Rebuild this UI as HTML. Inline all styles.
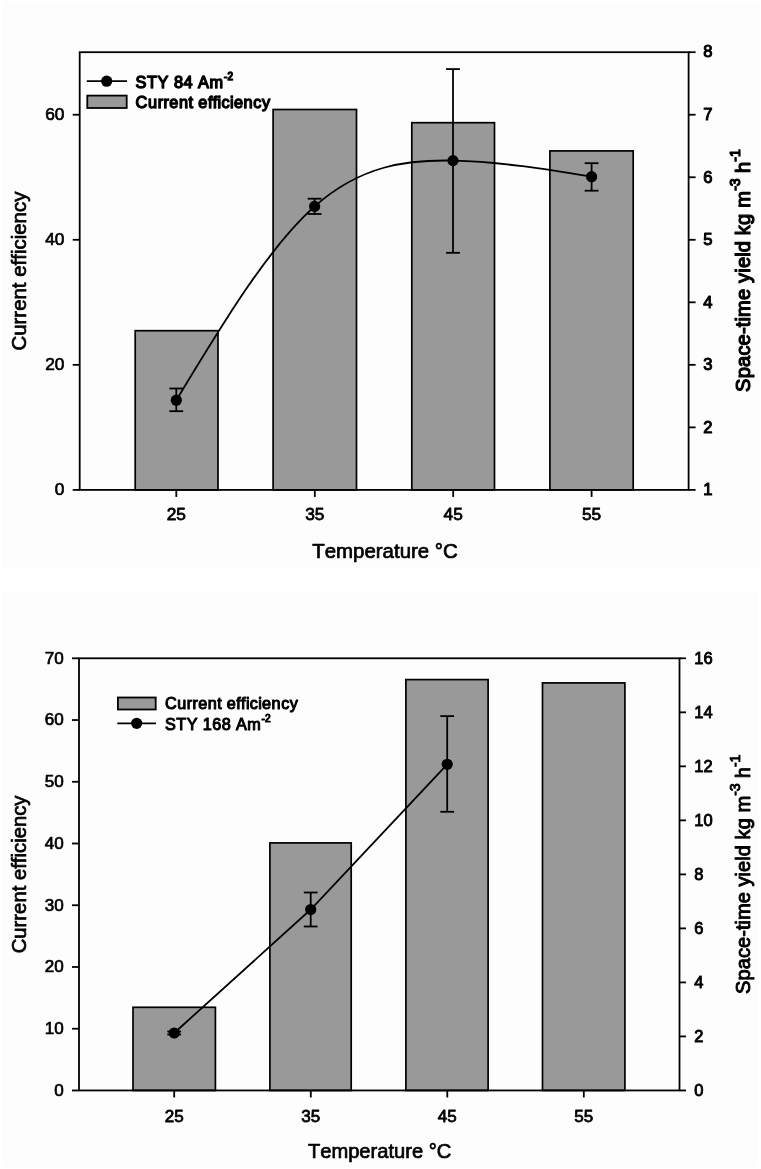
<!DOCTYPE html>
<html lang="en"><head><meta charset="utf-8"><title>Current efficiency and space-time yield vs temperature</title>
<style>
html,body{margin:0;padding:0;background:#fff;}
svg{display:block;font-family:'Liberation Sans', Arial, Helvetica, sans-serif;fill:#000;font-kerning:none;}
text{stroke-linejoin:round;}
</style></head><body>
<svg width="761" height="1169" viewBox="0 0 761 1169">
<defs><filter id="soft" x="0" y="0" width="761" height="1169" filterUnits="userSpaceOnUse" color-interpolation-filters="sRGB"><feGaussianBlur stdDeviation="0.5"/></filter></defs>
<rect width="761" height="1169" fill="#fff"/>
<g filter="url(#soft)">
<rect width="761" height="1169" fill="#fff"/>
<g id="chart-84">
<rect x="2" y="2" width="756.8" height="566" fill="#fdfdfd"/>
<rect x="135.2" y="330.7" width="82.8" height="159.2" fill="#999" stroke="#000" stroke-width="1.7"/>
<rect x="273.1" y="109.5" width="83.4" height="380.4" fill="#999" stroke="#000" stroke-width="1.7"/>
<rect x="411.8" y="122.7" width="82.7" height="367.2" fill="#999" stroke="#000" stroke-width="1.7"/>
<rect x="549.9" y="150.9" width="83.3" height="339" fill="#999" stroke="#000" stroke-width="1.7"/>
<rect x="79.7" y="52.2" width="608.9" height="437.7" fill="none" stroke="#000" stroke-width="1.8"/>
<line x1="72.7" y1="489.9" x2="79.7" y2="489.9" stroke="#000" stroke-width="1.8"/>
<text x="64.4" y="495.29" font-size="17.3" text-anchor="end" stroke="#000" stroke-width="0.7">0</text>
<line x1="72.7" y1="364.84" x2="79.7" y2="364.84" stroke="#000" stroke-width="1.8"/>
<text x="64.4" y="370.24" font-size="17.3" text-anchor="end" stroke="#000" stroke-width="0.7">20</text>
<line x1="72.7" y1="239.79" x2="79.7" y2="239.79" stroke="#000" stroke-width="1.8"/>
<text x="64.4" y="245.18" font-size="17.3" text-anchor="end" stroke="#000" stroke-width="0.7">40</text>
<line x1="72.7" y1="114.73" x2="79.7" y2="114.73" stroke="#000" stroke-width="1.8"/>
<text x="64.4" y="120.12" font-size="17.3" text-anchor="end" stroke="#000" stroke-width="0.7">60</text>
<line x1="688.6" y1="489.9" x2="695.6" y2="489.9" stroke="#000" stroke-width="1.8"/>
<text x="703.2" y="495.19" font-size="16.6" stroke="#000" stroke-width="1.05">1</text>
<line x1="688.6" y1="427.37" x2="695.6" y2="427.37" stroke="#000" stroke-width="1.8"/>
<text x="703.2" y="432.66" font-size="16.6" stroke="#000" stroke-width="1.05">2</text>
<line x1="688.6" y1="364.84" x2="695.6" y2="364.84" stroke="#000" stroke-width="1.8"/>
<text x="703.2" y="370.14" font-size="16.6" stroke="#000" stroke-width="1.05">3</text>
<line x1="688.6" y1="302.31" x2="695.6" y2="302.31" stroke="#000" stroke-width="1.8"/>
<text x="703.2" y="307.61" font-size="16.6" stroke="#000" stroke-width="1.05">4</text>
<line x1="688.6" y1="239.79" x2="695.6" y2="239.79" stroke="#000" stroke-width="1.8"/>
<text x="703.2" y="245.08" font-size="16.6" stroke="#000" stroke-width="1.05">5</text>
<line x1="688.6" y1="177.26" x2="695.6" y2="177.26" stroke="#000" stroke-width="1.8"/>
<text x="703.2" y="182.55" font-size="16.6" stroke="#000" stroke-width="1.05">6</text>
<line x1="688.6" y1="114.73" x2="695.6" y2="114.73" stroke="#000" stroke-width="1.8"/>
<text x="703.2" y="120.02" font-size="16.6" stroke="#000" stroke-width="1.05">7</text>
<line x1="688.6" y1="52.2" x2="695.6" y2="52.2" stroke="#000" stroke-width="1.8"/>
<text x="703.2" y="57.49" font-size="16.6" stroke="#000" stroke-width="1.05">8</text>
<line x1="176.3" y1="489.9" x2="176.3" y2="496.9" stroke="#000" stroke-width="1.8"/>
<text x="176.3" y="520.3" font-size="17.3" text-anchor="middle" stroke="#000" stroke-width="0.8">25</text>
<line x1="314.8" y1="489.9" x2="314.8" y2="496.9" stroke="#000" stroke-width="1.8"/>
<text x="314.8" y="520.3" font-size="17.3" text-anchor="middle" stroke="#000" stroke-width="0.8">35</text>
<line x1="453.2" y1="489.9" x2="453.2" y2="496.9" stroke="#000" stroke-width="1.8"/>
<text x="453.2" y="520.3" font-size="17.3" text-anchor="middle" stroke="#000" stroke-width="0.8">45</text>
<line x1="591.6" y1="489.9" x2="591.6" y2="496.9" stroke="#000" stroke-width="1.8"/>
<text x="591.6" y="520.3" font-size="17.3" text-anchor="middle" stroke="#000" stroke-width="0.8">55</text>
<path d="M176.3,400.2 C222.4,323.82 268.5,247.44 314.6,206.4 C360.73,165.33 406.87,159.66 453,160.6 C499.2,161.54 545.4,169.12 591.6,176.7" fill="none" stroke="#000" stroke-width="1.8"/>
<line x1="176.3" y1="388.5" x2="176.3" y2="411.2" stroke="#000" stroke-width="1.8"/>
<line x1="169.4" y1="388.5" x2="183.2" y2="388.5" stroke="#000" stroke-width="1.8"/>
<line x1="169.4" y1="411.2" x2="183.2" y2="411.2" stroke="#000" stroke-width="1.8"/>
<circle cx="176.3" cy="400.2" r="5.6" fill="#000"/>
<line x1="314.6" y1="198.7" x2="314.6" y2="214" stroke="#000" stroke-width="1.8"/>
<line x1="307.7" y1="198.7" x2="321.5" y2="198.7" stroke="#000" stroke-width="1.8"/>
<line x1="307.7" y1="214" x2="321.5" y2="214" stroke="#000" stroke-width="1.8"/>
<circle cx="314.6" cy="206.4" r="5.6" fill="#000"/>
<line x1="453" y1="69.1" x2="453" y2="252.8" stroke="#000" stroke-width="1.8"/>
<line x1="446.1" y1="69.1" x2="459.9" y2="69.1" stroke="#000" stroke-width="1.8"/>
<line x1="446.1" y1="252.8" x2="459.9" y2="252.8" stroke="#000" stroke-width="1.8"/>
<circle cx="453" cy="160.6" r="5.6" fill="#000"/>
<line x1="591.6" y1="163.2" x2="591.6" y2="190.7" stroke="#000" stroke-width="1.8"/>
<line x1="584.7" y1="163.2" x2="598.5" y2="163.2" stroke="#000" stroke-width="1.8"/>
<line x1="584.7" y1="190.7" x2="598.5" y2="190.7" stroke="#000" stroke-width="1.8"/>
<circle cx="591.6" cy="176.7" r="5.6" fill="#000"/>
<line x1="86.8" y1="81.2" x2="127" y2="81.2" stroke="#000" stroke-width="1.8"/>
<circle cx="106.7" cy="81.2" r="5.6" fill="#000"/>
<rect x="87.3" y="95.6" width="39.4" height="12.4" fill="#999" stroke="#000" stroke-width="1.8"/>
<text x="135.5 147.04 157.61 169.15 173.95 183.57 193.19 198 209.54" y="87.7" font-size="16.3" stroke="#000" stroke-width="1.35">STY 84 Am<tspan x="223.95 227.41" dy="-7.6" font-size="10">-2</tspan></text>
<text x="135.5 148.04 157.7 163.49 169.27 178.93 188.59 193.42 198.24 207.9 212.73 217.55 221.41 230.1 233.96 243.62 253.28 261.96" y="107.5" font-size="16.3" stroke="#000" stroke-width="1.35">Current efficiency</text>
<text x="26.3" y="350.6" font-size="20.45" transform="rotate(-90 26.3 350.6)" stroke="#000" stroke-width="0.7">Current efficiency</text>
<text x="312.2" y="558.3" font-size="20.45" stroke="#000" stroke-width="0.7">Temperature °C</text>
<text x="750.2 763.84 775.21 786.59 796.81 808.18 814.99 820.68 825.22 842.25 853.63 859.31 869.53 874.08 885.45 889.99 901.37 907.05 917.27 928.65 934.33" y="392" font-size="20.1" transform="rotate(-90 750.2 392)" stroke="#000" stroke-width="1.2">Space-time yield kg m<tspan x="951.36 955.91" dy="-10.22" font-size="14.2">-3</tspan><tspan x="963.49 969.17" dy="10.22"> h</tspan><tspan x="980.55 985.09" dy="-10.22" font-size="14.2">-1</tspan></text>
</g>
<g id="chart-168">
<rect x="2" y="592" width="755.8" height="575" fill="#fdfdfd"/>
<rect x="133" y="1007.3" width="82.4" height="83.15" fill="#999" stroke="#000" stroke-width="1.7"/>
<rect x="269.9" y="842.9" width="81.3" height="247.55" fill="#999" stroke="#000" stroke-width="1.7"/>
<rect x="405.9" y="679.6" width="82.2" height="410.85" fill="#999" stroke="#000" stroke-width="1.7"/>
<rect x="542.5" y="682.9" width="82.4" height="407.55" fill="#999" stroke="#000" stroke-width="1.7"/>
<rect x="79.0" y="658.3" width="600.5" height="432.15" fill="none" stroke="#000" stroke-width="1.8"/>
<line x1="72" y1="1090.45" x2="79" y2="1090.45" stroke="#000" stroke-width="1.8"/>
<text x="63.8" y="1095.75" font-size="17.04" text-anchor="end" stroke="#000" stroke-width="0.7">0</text>
<line x1="72" y1="1028.71" x2="79" y2="1028.71" stroke="#000" stroke-width="1.8"/>
<text x="63.8" y="1034.01" font-size="17.04" text-anchor="end" stroke="#000" stroke-width="0.7">10</text>
<line x1="72" y1="966.98" x2="79" y2="966.98" stroke="#000" stroke-width="1.8"/>
<text x="63.8" y="972.28" font-size="17.04" text-anchor="end" stroke="#000" stroke-width="0.7">20</text>
<line x1="72" y1="905.24" x2="79" y2="905.24" stroke="#000" stroke-width="1.8"/>
<text x="63.8" y="910.54" font-size="17.04" text-anchor="end" stroke="#000" stroke-width="0.7">30</text>
<line x1="72" y1="843.51" x2="79" y2="843.51" stroke="#000" stroke-width="1.8"/>
<text x="63.8" y="848.81" font-size="17.04" text-anchor="end" stroke="#000" stroke-width="0.7">40</text>
<line x1="72" y1="781.77" x2="79" y2="781.77" stroke="#000" stroke-width="1.8"/>
<text x="63.8" y="787.07" font-size="17.04" text-anchor="end" stroke="#000" stroke-width="0.7">50</text>
<line x1="72" y1="720.04" x2="79" y2="720.04" stroke="#000" stroke-width="1.8"/>
<text x="63.8" y="725.34" font-size="17.04" text-anchor="end" stroke="#000" stroke-width="0.7">60</text>
<line x1="72" y1="658.3" x2="79" y2="658.3" stroke="#000" stroke-width="1.8"/>
<text x="63.8" y="663.6" font-size="17.04" text-anchor="end" stroke="#000" stroke-width="0.7">70</text>
<line x1="679.5" y1="1090.45" x2="686" y2="1090.45" stroke="#000" stroke-width="1.8"/>
<text x="694.3" y="1096.15" font-size="16.5" stroke="#000" stroke-width="0.9">0</text>
<line x1="679.5" y1="1036.43" x2="686" y2="1036.43" stroke="#000" stroke-width="1.8"/>
<text x="694.3" y="1042.13" font-size="16.5" stroke="#000" stroke-width="0.9">2</text>
<line x1="679.5" y1="982.41" x2="686" y2="982.41" stroke="#000" stroke-width="1.8"/>
<text x="694.3" y="988.11" font-size="16.5" stroke="#000" stroke-width="0.9">4</text>
<line x1="679.5" y1="928.39" x2="686" y2="928.39" stroke="#000" stroke-width="1.8"/>
<text x="694.3" y="934.09" font-size="16.5" stroke="#000" stroke-width="0.9">6</text>
<line x1="679.5" y1="874.38" x2="686" y2="874.38" stroke="#000" stroke-width="1.8"/>
<text x="694.3" y="880.08" font-size="16.5" stroke="#000" stroke-width="0.9">8</text>
<line x1="679.5" y1="820.36" x2="686" y2="820.36" stroke="#000" stroke-width="1.8"/>
<text x="694.3" y="826.06" font-size="16.5" stroke="#000" stroke-width="0.9">10</text>
<line x1="679.5" y1="766.34" x2="686" y2="766.34" stroke="#000" stroke-width="1.8"/>
<text x="694.3" y="772.04" font-size="16.5" stroke="#000" stroke-width="0.9">12</text>
<line x1="679.5" y1="712.32" x2="686" y2="712.32" stroke="#000" stroke-width="1.8"/>
<text x="694.3" y="718.02" font-size="16.5" stroke="#000" stroke-width="0.9">14</text>
<line x1="679.5" y1="658.3" x2="686" y2="658.3" stroke="#000" stroke-width="1.8"/>
<text x="694.3" y="664" font-size="16.5" stroke="#000" stroke-width="0.9">16</text>
<line x1="174.2" y1="1090.45" x2="174.2" y2="1097.45" stroke="#000" stroke-width="1.8"/>
<text x="174.2" y="1121.6" font-size="17.04" text-anchor="middle" stroke="#000" stroke-width="0.8">25</text>
<line x1="310.8" y1="1090.45" x2="310.8" y2="1097.45" stroke="#000" stroke-width="1.8"/>
<text x="310.8" y="1121.6" font-size="17.04" text-anchor="middle" stroke="#000" stroke-width="0.8">35</text>
<line x1="447.3" y1="1090.45" x2="447.3" y2="1097.45" stroke="#000" stroke-width="1.8"/>
<text x="447.3" y="1121.6" font-size="17.04" text-anchor="middle" stroke="#000" stroke-width="0.8">45</text>
<line x1="583.8" y1="1090.45" x2="583.8" y2="1097.45" stroke="#000" stroke-width="1.8"/>
<text x="583.8" y="1121.6" font-size="17.04" text-anchor="middle" stroke="#000" stroke-width="0.8">55</text>
<polyline points="174.2,1033 310.7,909.5 447.2,764.3" fill="none" stroke="#000" stroke-width="1.8"/>
<line x1="174.2" y1="1031.5" x2="174.2" y2="1034.5" stroke="#000" stroke-width="1.8"/>
<line x1="167.3" y1="1031.5" x2="181.1" y2="1031.5" stroke="#000" stroke-width="1.8"/>
<line x1="167.3" y1="1034.5" x2="181.1" y2="1034.5" stroke="#000" stroke-width="1.8"/>
<circle cx="174.2" cy="1033" r="5.6" fill="#000"/>
<line x1="310.7" y1="892.5" x2="310.7" y2="926.5" stroke="#000" stroke-width="1.8"/>
<line x1="303.8" y1="892.5" x2="317.6" y2="892.5" stroke="#000" stroke-width="1.8"/>
<line x1="303.8" y1="926.5" x2="317.6" y2="926.5" stroke="#000" stroke-width="1.8"/>
<circle cx="310.7" cy="909.5" r="5.6" fill="#000"/>
<line x1="447.2" y1="716.1" x2="447.2" y2="811.8" stroke="#000" stroke-width="1.8"/>
<line x1="440.3" y1="716.1" x2="454.1" y2="716.1" stroke="#000" stroke-width="1.8"/>
<line x1="440.3" y1="811.8" x2="454.1" y2="811.8" stroke="#000" stroke-width="1.8"/>
<circle cx="447.2" cy="764.3" r="5.6" fill="#000"/>
<rect x="117.9" y="697.5" width="37.8" height="12.0" fill="#999" stroke="#000" stroke-width="1.8"/>
<line x1="117.3" y1="723.3" x2="156" y2="723.3" stroke="#000" stroke-width="1.8"/>
<circle cx="136.7" cy="723.3" r="5.6" fill="#000"/>
<text x="164.9 177.28 186.81 192.52 198.23 207.76 217.3 222.06 226.82 236.36 241.12 245.88 249.69 258.26 262.07 271.6 281.14 289.71" y="709" font-size="16.2" stroke="#000" stroke-width="1.05">Current efficiency</text>
<text x="164.9 176.27 186.67 198.04 202.77 212.25 221.73 231.2 235.94 247.3" y="730" font-size="16.2" stroke="#000" stroke-width="1.05">STY 168 Am<tspan x="261.5 264.9" dy="-7.6" font-size="10.2">-2</tspan></text>
<text x="26.4" y="953.3" font-size="20.3" transform="rotate(-90 26.4 953.3)" stroke="#000" stroke-width="0.7">Current efficiency</text>
<text x="307.9" y="1157.5" font-size="20.14" stroke="#000" stroke-width="0.7">Temperature °C</text>
<text x="750 763.43 774.63 785.84 795.91 807.11 813.81 819.41 823.88 840.66 851.86 857.46 867.53 872 883.2 887.68 898.88 904.47 914.54 925.74 931.34" y="993.9" font-size="20.1" transform="rotate(-90 750 993.9)" stroke="#000" stroke-width="0.95">Space-time yield kg m<tspan x="948.12 952.59" dy="-10.07" font-size="14.2">-3</tspan><tspan x="960.06 965.66" dy="10.07"> h</tspan><tspan x="976.86 981.33" dy="-10.07" font-size="14.2">-1</tspan></text>
</g>
</g>
</svg>
</body></html>
